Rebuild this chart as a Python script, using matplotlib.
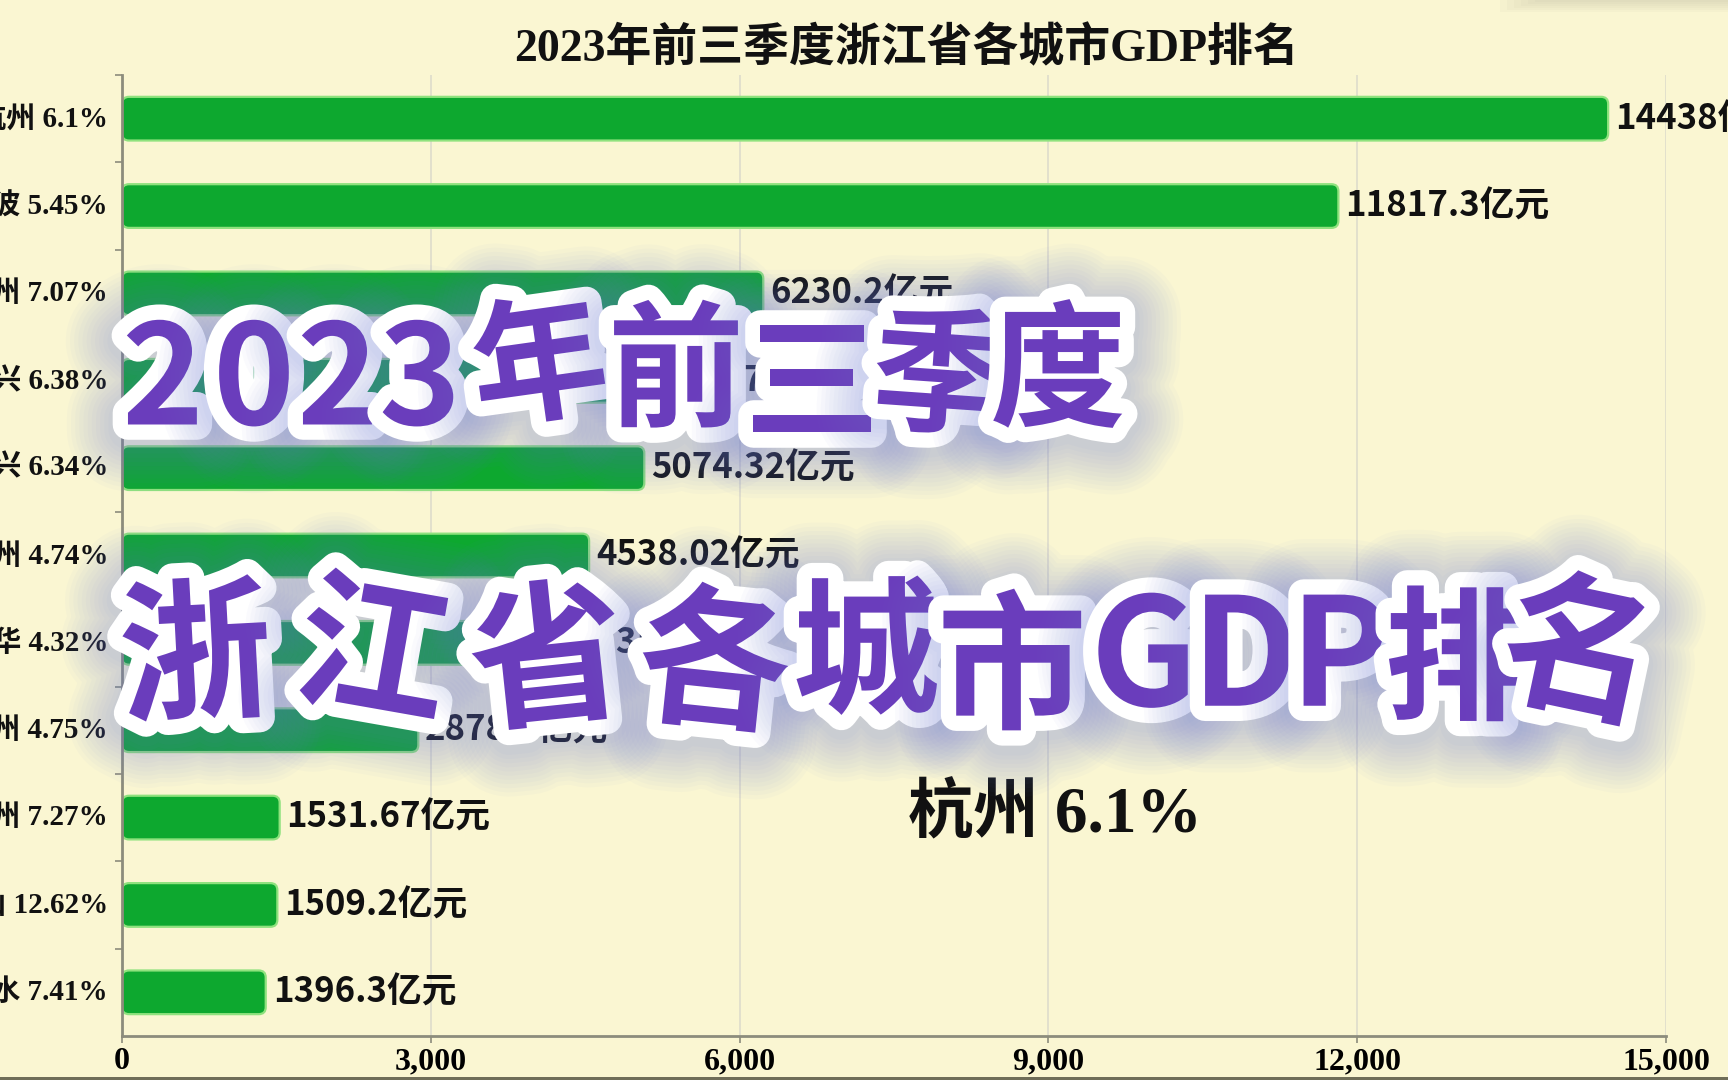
import matplotlib
matplotlib.use('Agg')
import matplotlib.pyplot as plt
import matplotlib.patheffects as pe
from matplotlib.patches import FancyBboxPatch, Rectangle

# ---------------- data ----------------
cities = ['杭州', '宁波', '温州', '绍兴', '嘉兴', '台州', '金华', '湖州', '衢州', '舟山', '丽水']
growth = ['6.1%', '5.45%', '7.07%', '6.38%', '6.34%', '4.74%', '4.32%', '4.75%', '7.27%', '12.62%', '7.41%']
gdp = [14438, 11817.3, 6230.2, 5573.4, 5074.32, 4538.02, 4335.4, 2878.6, 1531.67, 1509.2, 1396.3]
gdp_text = ['14438', '11817.3', '6230.2', '5573.4', '5074.32', '4538.02', '4335.4', '2878.6', '1531.67', '1509.2', '1396.3']
unit = '亿元'
xticks = [0, 3000, 6000, 9000, 12000, 15000]
title = '2023年前三季度浙江省各城市GDP排名'
current_label = '杭州 6.1%'
overlay_line1 = list('2023年前三季度')
overlay_line2 = ['浙', '江', '省', '各', '城', '市', 'G', 'D', 'P', '排', '名']

# ---------------- style ----------------
W, H = 1728, 1080
BG = '#FAF6D2'
BAR = '#0DA82F'
BAR_EDGE = '#8FE27E'
SPINE = '#8C8C7C'
GRID = '#DEDCCB'
PURPLE = '#6A3DBC'
SERIF = ['Liberation Serif', 'Noto Sans CJK SC', 'DejaVu Serif']
CJK = ['Noto Sans CJK SC', 'DejaVu Sans']
NARROW = ['Liberation Sans Narrow', 'Noto Sans CJK SC', 'DejaVu Sans']

fig = plt.figure(figsize=(W / 100, H / 100), dpi=100, facecolor=BG)
ax = fig.add_axes([122 / W, 1 - 1036 / H, (1666 - 122) / W, (1036 - 75) / H])
ax.set_facecolor(BG)

ypos = list(range(len(cities)))
ax.set_xlim(0, 15000)
ax.set_ylim(len(cities) - 0.5, -0.5)

# grid
ax.set_xticks(xticks)
ax.set_xticklabels([f'{t:,}' for t in xticks], fontfamily=SERIF, fontsize=23, fontweight='bold')
ax.grid(axis='x', color=GRID, linewidth=1.2)
ax.set_axisbelow(True)

# bars
bars = ax.barh(ypos, gdp, height=0.5, color=BAR)
fig.canvas.draw()
px_per_x = ax.transData.transform((1, 0))[0] - ax.transData.transform((0, 0))[0]
px_per_y = abs(ax.transData.transform((0, 1))[1] - ax.transData.transform((0, 0))[1])
r_px = 7.0
r_x = r_px / px_per_x
aspect = (r_px / px_per_y) / r_x
for b in bars:
    x0, y0, w, h = b.get_x(), b.get_y(), b.get_width(), b.get_height()
    b.set_visible(False)
    p = FancyBboxPatch((x0, y0), w, h,
                       boxstyle=f'round,pad=0,rounding_size={r_x}',
                       mutation_aspect=aspect,
                       facecolor=BAR, edgecolor=BAR_EDGE, linewidth=1.6, zorder=2)
    ax.add_patch(p)

# value labels
for i, (v, t) in enumerate(zip(gdp, gdp_text)):
    ax.annotate(t + unit, xy=(v, i), xytext=(5, 0), textcoords='offset points',
                va='center', ha='left', fontfamily=NARROW, fontsize=25,
                fontweight='bold', color='#111111', annotation_clip=False, zorder=3)

# y axis: category boundaries as ticks, labels centred
ax.set_yticks([i + 0.5 for i in ypos[:-1]] + [-0.5])
ax.set_yticklabels([])
ax.tick_params(axis='y', length=5, width=1.2, color=SPINE)
ax.tick_params(axis='x', length=5, width=1.2, color=SPINE, pad=3)
for i, (c, g) in enumerate(zip(cities, growth)):
    ax.annotate(f'{c} {g}', xy=(0, i), xytext=(-10, 0), textcoords='offset points',
                va='center', ha='right', fontfamily=SERIF, fontsize=21,
                fontweight='bold', color='#111111', annotation_clip=False)

for s in ['top', 'right']:
    ax.spines[s].set_visible(False)
for s in ['left', 'bottom']:
    ax.spines[s].set_color(SPINE)
    ax.spines[s].set_linewidth(2)

# title
fig.text(906 / W, 1 - 49 / H, title, ha='center', va='center',
         fontfamily=SERIF, fontsize=33, fontweight='bold', color='#111111')

# current frame label
ax.text(0.604, 0.23, current_label, transform=ax.transAxes, ha='center', va='center',
        fontfamily=SERIF, fontsize=47, fontweight='bold', color='#111111')

# ---------------- overlay title (sticker style) ----------------
glow_color = (0.42, 0.48, 0.84)
effects = [pe.Stroke(linewidth=lw, foreground=glow_color, alpha=0.032, joinstyle='round', offset=(0, -4))
           for lw in range(88, 24, -6)]
effects += [pe.Stroke(linewidth=22, foreground='white', joinstyle='round'), pe.Normal()]

line1_x = [163, 254, 338, 420, 540, 676, 812, 940, 1058]
line1_y = [384, 384, 384, 384, 370, 376, 388, 382, 376]
line1_rot = [0, 0, 0, 0, 8, 0, 0, -4, 0]
line1_size = [100, 100, 100, 100, 98, 98, 98, 98, 98]
line2_x = [196, 372, 548, 714, 866, 1012, 1144, 1245, 1340, 1457, 1578]
line2_y = [662, 658, 666, 670, 658, 674, 662, 662, 662, 666, 658]
line2_rot = [3, -10, 6, -6, 0, 0, 0, 0, 0, 0, -12]
line2_size = [110, 110, 112, 110, 106, 108, 108, 108, 108, 104, 110]

def put(chars, xs, ys, rots, sizes):
    for ch, x, y, r, s in zip(chars, xs, ys, rots, sizes):
        fig.text(x / W, 1 - y / H, ch, ha='center', va='center', rotation=r,
                 fontfamily=CJK, fontsize=s,
                 fontweight='black', color=PURPLE, path_effects=effects, zorder=10)

put(overlay_line1, line1_x, line1_y, line1_rot, line1_size)
put(overlay_line2, line2_x, line2_y, line2_rot, line2_size)

# frame details: dark bottom edge and faint top-right shadow
fig.patches.append(Rectangle((0, 0), 1, 3 / H, transform=fig.transFigure,
                             facecolor='#6F6D58', edgecolor='none'))
for k in range(6):
    fig.patches.append(Rectangle((1500 / W + k * 0.004, 1 - (12 - 2 * k) / H), 1, (12 - 2 * k) / H,
                                 transform=fig.transFigure, facecolor='#BDB9A0',
                                 edgecolor='none', alpha=0.08))

fig.savefig('out.png', dpi=100, facecolor=BG)
